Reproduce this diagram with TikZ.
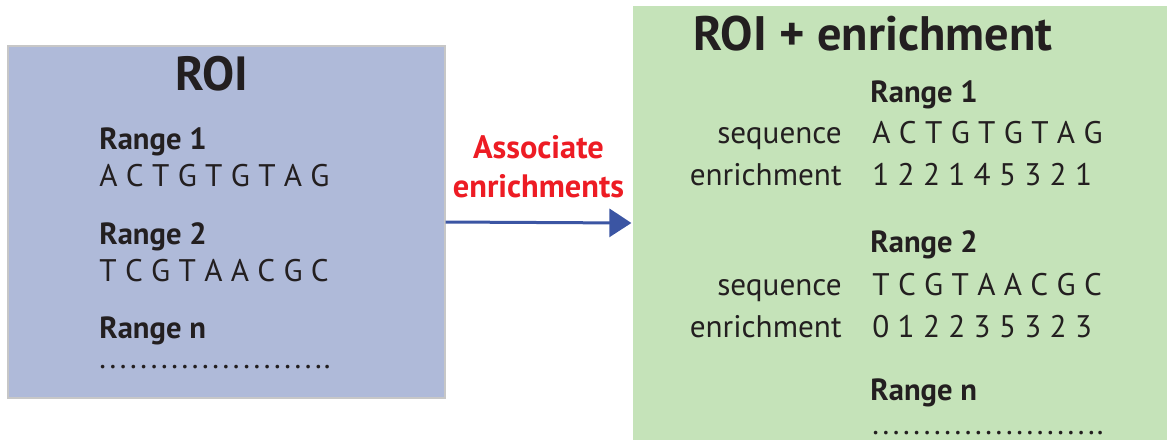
\documentclass[tikz,border=0pt]{standalone}
\usepackage{fontspec}
\setmainfont{PT Sans}
\usetikzlibrary{arrows.meta}
\definecolor{roiblue}{RGB}{175,186,217}
\definecolor{roigreen}{RGB}{197,227,185}
\definecolor{arrowblue}{RGB}{59,85,163}
\definecolor{labelred}{RGB}{237,28,36}
\definecolor{inkblack}{RGB}{35,31,32}
\newcommand{\dotrow}{\foreach \k in {1,...,21}{.\hspace{1.8pt}}..}

\begin{document}
\begin{tikzpicture}[x=0.5pt, y=-0.5pt,
    every node/.style={inner sep=0pt, text=inkblack},
    boxshape/.style={draw=black!22, line width=0.6pt, minimum width=#1},
    header/.style={font=\bfseries\fontsize{24}{24}\selectfont},
    rangename/.style={anchor=base west, font=\bfseries\fontsize{15.3}{15.3}\selectfont},
    seqtext/.style={anchor=base west, font=\fontsize{15.6}{15.6}\selectfont},
    rowname/.style={anchor=base east, font=\fontsize{15.6}{15.6}\selectfont},
    dotline/.style={seqtext, text height=1.5pt, text depth=0pt},
    linktext/.style={align=center, text=labelred, font=\bfseries\fontsize{16.2}{19.5}\selectfont}]
      \useasboundingbox (0, 0) rectangle (1174, 447);
      % Draw the boxes
      \node[boxshape=218.5pt, fill=roiblue, minimum height=176pt] (roibox) at (226.5, 222) {};
      \node[boxshape=268pt, draw=white, fill=roigreen, minimum height=218pt] (enrbox) at (900, 223) {};
      % Draw the link
      \draw[arrowblue, line width=1.5pt, -{Triangle[length=11pt, width=14pt]}] (roibox.east) -- (enrbox.west);
      \node[linktext, anchor=base] (link) at (538.5, 197) {Associate\\enrichments};
      % Draw the ROI contents
      \node[header, anchor=base] (roi) at (212, 90) {ROI};
        \node[rangename] (l1) at (99, 149) {Range 1};
        \node[seqtext] (l1s) at (99, 186) {A C T G T G T A G};
        \node[rangename] (l2) at (99, 244) {Range 2};
        \node[seqtext] (l2s) at (99, 281) {T C G T A A C G C};
        \node[rangename] (ln) at (99, 338) {Range n};
        \node[dotline] (lnd) at (99, 368) {\dotrow};
      % Draw the enriched contents
      \node[header, font=\bfseries\fontsize{24.2}{24.2}\selectfont, anchor=base west] (roie) at (693, 50) {ROI + enrichment};
        \node[rangename] (r1) at (870, 102) {Range 1};
        \node[rowname] (r1a) at (842, 143) {sequence};
        \node[seqtext] (r1s) at (872, 143) {A C T G T G T A G};
        \node[rowname] (r1b) at (842, 185) {enrichment};
        \node[seqtext] (r1e) at (872, 185) {1 2 2 1 4 5 3 2 1};
        \node[rangename] (r2) at (870, 252) {Range 2};
        \node[rowname] (r2a) at (842, 295) {sequence};
        \node[seqtext] (r2s) at (872, 295) {T C G T A A C G C};
        \node[rowname] (r2b) at (842, 337) {enrichment};
        \node[seqtext] (r2e) at (872, 337) {0 1 2 2 3 5 3 2 3};
        \node[rangename] (rn) at (870, 400) {Range n};
        \node[dotline] (rnd) at (872, 434) {\dotrow};
    \end{tikzpicture}
\end{document}
